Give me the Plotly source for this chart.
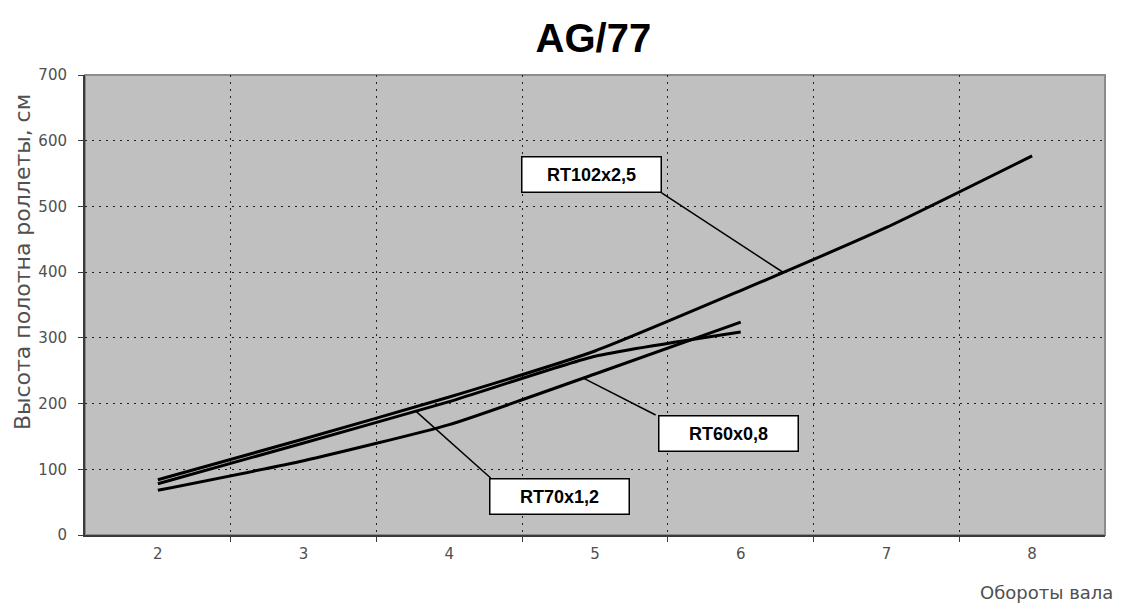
import numpy as np
import plotly.graph_objects as go

# Chart data
turns = [2, 3, 4, 5, 6, 7, 8]
rt102 = [84, 146, 210, 280, 372, 468, 577]
rt70 = [78, 140, 203, 272, 309]
rt60 = [68, 113, 168, 245, 324]
series_names = ["RT102x2,5", "RT70x1,2", "RT60x0,8"]
y_ticks = [0, 100, 200, 300, 400, 500, 600, 700]

GRAY_TXT = "#505050"
FONT = "DejaVu Sans, sans-serif"

fig = go.Figure()
for name, vals in zip(series_names, [rt102, rt70, rt60]):
    fig.add_trace(go.Scatter(x=turns[:len(vals)], y=vals, name=name, mode="lines",
                             line=dict(color="black", width=3, shape="spline", smoothing=0.5)))

# Labels with leader lines: (series, x on curve, box corner, box centre)
labels = [
    (0, 6.29, (5.457, 520.5), (4.973, 548.7)),
    (1, 3.77, (4.284, 86.8), (4.757, 58.6)),
    (2, 4.92, (5.416, 182.6), (5.913, 154.5)),
]
all_vals = [rt102, rt70, rt60]
for idx, xp, corner, centre in labels:
    vals = all_vals[idx]
    yp = float(np.interp(xp, turns[:len(vals)], vals))
    fig.add_shape(type="line", x0=xp, y0=yp, x1=corner[0], y1=corner[1],
                  line=dict(color="black", width=1.5))
    fig.add_annotation(x=centre[0], y=centre[1], text="<b>" + series_names[idx] + "</b>",
                       showarrow=False, bgcolor="white", bordercolor="black", borderwidth=1.5,
                       width=136, height=32,
                       font=dict(family="Liberation Sans Narrow, Arial Narrow, Liberation Sans, sans-serif",
                                 size=18, color="black"))

# Plot area border
fig.add_shape(type="rect", xref="paper", yref="paper", x0=0, y0=0, x1=1, y1=1,
              line=dict(color="#8c8c8c", width=2), layer="below")

# the page body has an 8px margin, so the figure is 8px smaller and margins shifted
fig.update_layout(
    width=1115, height=599,
    margin=dict(l=77, r=18, t=67, b=72),
    paper_bgcolor="white", plot_bgcolor="#c0c0c0",
    showlegend=False,
    title=dict(text="<b>AG/77</b>", x=0.525, xanchor="center", y=0.95, yanchor="middle",
               font=dict(family="Liberation Sans, Arial, sans-serif", size=40, color="black")),
    font=dict(family=FONT, color=GRAY_TXT, size=15),
)
fig.update_xaxes(range=[1.5, 8.5], tickvals=turns, ticks="", showgrid=False, zeroline=False,
                 showline=True, linecolor="#3a3a3a", linewidth=2,
                 tickfont=dict(size=15, color=GRAY_TXT), ticklabelstandoff=4,
                 minor=dict(tickmode="array", tickvals=[2.5, 3.5, 4.5, 5.5, 6.5, 7.5],
                            showgrid=True, gridcolor="#202020", gridwidth=1, griddash="2px,5px",
                            ticks="outside", ticklen=5, tickcolor="#3a3a3a", tickwidth=1))
fig.update_yaxes(range=[0, 700], tickvals=y_ticks, ticks="outside", ticklen=5,
                 tickcolor="#3a3a3a", showgrid=True, gridcolor="#202020", gridwidth=1,
                 griddash="2px,5px", zeroline=False, showline=True, linecolor="#3a3a3a",
                 linewidth=2, tickfont=dict(size=15, color=GRAY_TXT), ticklabelstandoff=8)

fig.add_annotation(xref="paper", yref="paper", x=-0.062, xanchor="center", y=0.593, yanchor="middle",
                   text="Высота полотна роллеты, см",
                   textangle=-90, showarrow=False, font=dict(size=22, color=GRAY_TXT))
fig.add_annotation(xref="paper", yref="paper", x=1.0098, xanchor="right", y=-0.124, yanchor="middle",
                   text="Обороты вала", showarrow=False, font=dict(size=18, color=GRAY_TXT))

fig.write_html("out.html")
